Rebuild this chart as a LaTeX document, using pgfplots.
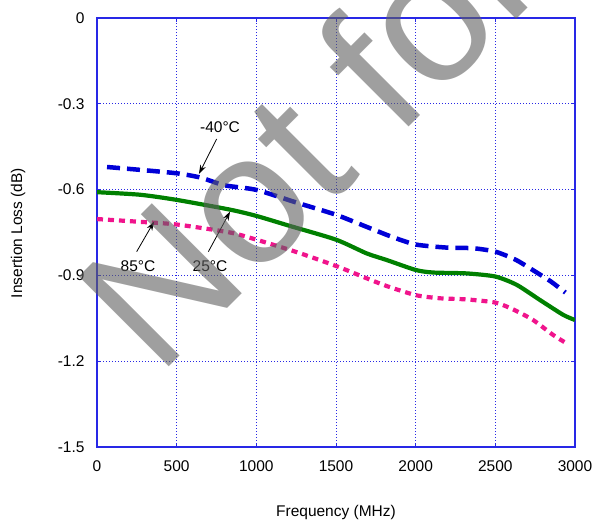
\documentclass[border=0pt]{standalone}
\usepackage{fontspec}
\setmainfont{Liberation Sans}
\usepackage{pgfplots}
\pgfplotsset{compat=1.18}
\usetikzlibrary{arrows.meta}
\definecolor{cblue}{RGB}{0,0,215}
\definecolor{cgreen}{RGB}{0,128,0}
\definecolor{cpink}{RGB}{240,20,140}
\definecolor{gridblue}{RGB}{40,40,230}
\definecolor{wm}{RGB}{95,95,95}
\begin{document}
\begin{tikzpicture}[x=1pt,y=1pt]
\path[use as bounding box] (0,0) rectangle (595,521);
\begin{axis}[
  at={(97pt,74pt)}, anchor=south west,
  scale only axis, width=478pt, height=429pt,
  xmin=0,xmax=3000,ymin=-1.5,ymax=0,
  xtick={0,500,1000,1500,2000,2500,3000},
  xticklabels={0,500,1000,1500,2000,2500,3000},
  ytick={-1.5,-1.2,-0.9,-0.6,-0.3,0},
  yticklabels={-1.5,-1.2,-0.9,-0.6,-0.3,0},
  ticklabel style={font=\fontsize{15.5}{18}\selectfont},
  xticklabel style={yshift=-10pt},
  yticklabel style={xshift=-9pt},
  axis line style={gridblue, line width=1.2pt},
  tick style={gridblue, line width=0.8pt},
  major tick length=4pt,
  tick align=inside,
  grid=major,
  major grid style={gridblue, line width=0.7pt, dash pattern=on 1.2pt off 1.8pt},
]
\addplot[cblue, line width=4.5pt, dash pattern=on 13pt off 7pt, smooth, tension=0.4] coordinates {
(63,-0.521) (250,-0.530) (500,-0.543) (650,-0.558) (800,-0.585) (1000,-0.601) (1250,-0.645) (1500,-0.688) (1700,-0.732) (1850,-0.765) (2000,-0.792) (2200,-0.803) (2360,-0.805) (2500,-0.817) (2630,-0.846) (2760,-0.890) (2850,-0.922) (2940,-0.960)
};
\addplot[cgreen, line width=4.2pt, smooth, tension=0.4] coordinates {
(0,-0.609) (270,-0.618) (500,-0.636) (834,-0.670) (1000,-0.692) (1210,-0.727) (1500,-0.775) (1692,-0.823) (1817,-0.846) (2000,-0.881) (2110,-0.890) (2319,-0.893) (2500,-0.904) (2634,-0.933) (2780,-0.986) (2926,-1.038) (3000,-1.056)
};
\addplot[cpink, line width=4.2pt, dash pattern=on 6pt off 5pt, smooth, tension=0.4] coordinates {
(0,-0.703) (250,-0.712) (500,-0.722) (834,-0.750) (1000,-0.775) (1250,-0.818) (1500,-0.867) (1692,-0.910) (1817,-0.937) (2000,-0.969) (2151,-0.980) (2319,-0.984) (2500,-0.995) (2612,-1.019) (2737,-1.056) (2862,-1.108) (2960,-1.142)
};
\draw[black, line width=0.8pt, -{Stealth[length=9pt,width=6pt]}] (axis cs:751,-0.423) -- (axis cs:640,-0.545);
\draw[black, line width=0.8pt, -{Stealth[length=9pt,width=6pt]}] (axis cs:699,-0.817) -- (axis cs:835,-0.677);
\draw[black, line width=0.8pt, -{Stealth[length=9pt,width=6pt]}] (axis cs:249,-0.817) -- (axis cs:358,-0.712);
\node[font=\fontsize{15.5}{18}\selectfont] at (axis cs:772,-0.381) {-40°C};
\node[font=\fontsize{15.5}{18}\selectfont] at (axis cs:709,-0.869) {25°C};
\node[font=\fontsize{15.5}{18}\selectfont] at (axis cs:257,-0.869) {85°C};
\end{axis}
\node[font=\fontsize{15.5}{18}\selectfont, rotate=90] at (18,288) {Insertion Loss (dB)};
\node[font=\fontsize{15.5}{18}\selectfont] at (336,9) {Frequency (MHz)};
\node[font=\fontsize{185}{185}\selectfont, rotate=45, anchor=base west, inner sep=0pt, text=wm, opacity=0.6] at (158,143) {Not for New Design};
\end{tikzpicture}
\end{document}
